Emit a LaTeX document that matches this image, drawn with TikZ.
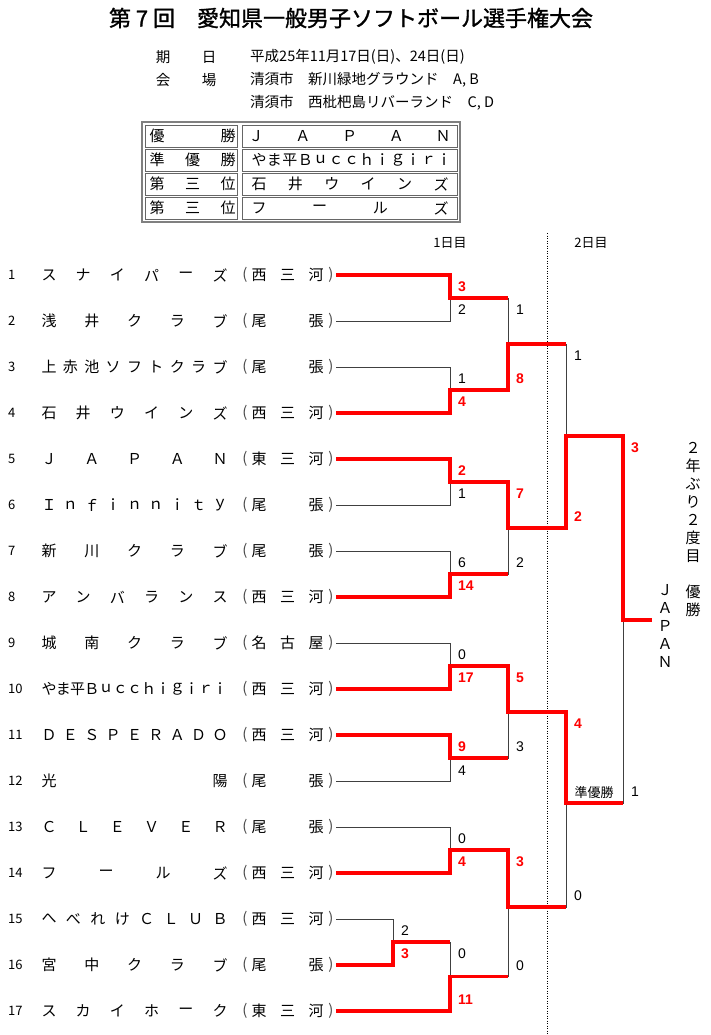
\documentclass[tikz,border=0pt]{standalone}
\usepackage{fontspec}
\newfontfamily\jp{Noto Sans CJK JP}
\newfontfamily\jpheavy[FakeBold=1.2]{Noto Sans CJK JP}
\newfontfamily\scorefont{Liberation Sans}
\usetikzlibrary{positioning,fit,calc}
\definecolor{winred}{rgb}{1,0,0}
\definecolor{framegray}{gray}{0.5}

% characters spread evenly between two centres
\newcommand{\spread}[5]{% #1 prefix, #2 first x, #3 last x, #4 y, #5 characters
  \foreach \c [count=\k] in {#5} {\xdef\nch{\k}}
  \pgfmathsetmacro\dx{(#3-#2)/(\nch-1)}
  \foreach \c [count=\k from 0] in {#5}
    \node[ch] (#1-\k) at ({#2+\k*\dx},#4) {\c};
}
% one team row
\newcommand{\team}[3]{% #1 number, #2 name, #3 region
  \pgfmathsetmacro\ty{275+46*(#1-1)}
  \node[teamno] (no#1) at (8,\ty) {#1};
  \spread{nm#1}{49}{220}{\ty}{#2}
  \node[paren] (lp#1) at (245,\ty) {(};
  \spread{rg#1}{259}{316}{\ty}{#3}
  \node[paren] (rp#1) at (331,\ty) {)};
  \coordinate (t#1) at (336,\ty);
}

\begin{document}
\begin{tikzpicture}[
  x = 1pt,
  y = -1pt,
  every node/.style = {inner sep = 0pt},
  ch/.style = {font = \jp\fontsize{15}{15}\selectfont},
  paren/.style = {font = \jp\fontsize{15}{15}\selectfont, text = black!70},
  teamno/.style = {anchor = west, font = \jp\fontsize{13}{13}\selectfont},
  titletext/.style = {font = \jpheavy\fontsize{22}{22}\selectfont},
  info/.style = {font = \jp\fontsize{14.5}{14.5}\selectfont},
  small/.style = {font = \jp\fontsize{13}{13}\selectfont},
  cell/.style = {
    draw = black!60,
    line width = 0.8pt,
    rectangle,
    minimum height = 22pt,
  },
  tableframe/.style = {
    draw = framegray,
    line width = 1.6pt,
    rectangle,
  },
  win/.style = {draw = winred, line width = 3.4pt},
  lose/.style = {draw = black!75, line width = 0.9pt},
  dayline/.style = {draw, line width = 0.8pt, dash pattern = on 1pt off 1.5pt},
  lscore/.style = {anchor = west, font = \scorefont\fontsize{14}{14}\selectfont},
  wscore/.style = {lscore, text = winred, font = \scorefont\bfseries\fontsize{14}{14}\selectfont},
]

  \useasboundingbox (0,0) rectangle (710,1035);

  % header
  \node[titletext] (title) at (351,18) {第 7 回　愛知県一般男子ソフトボール選手権大会};

  \node[info] (ki) at (163,57) {期};
  \node[info] (bi) at (209,57) {日};
  \node[info,anchor=west] (date) at (250,57) {平成25年11月17日(日)、24日(日)};
  \node[info] (kai) at (163,80) {会};
  \node[info] (jo) at (209,80) {場};
  \node[info,anchor=west] (place1) at (250,80) {清須市　新川緑地グラウンド　A, B};
  \node[info,anchor=west] (place2) at (250,103) {清須市　西枇杷島リバーランド　C, D};

  % result table
  \node[cell,minimum width=92pt] (c1l) at (191,136) {};
  \node[cell,minimum width=215pt] (c1r) at (349.5,136) {};
  \node[cell,minimum width=92pt] (c2l) at (191,160) {};
  \node[cell,minimum width=215pt] (c2r) at (349.5,160) {};
  \node[cell,minimum width=92pt] (c3l) at (191,184) {};
  \node[cell,minimum width=215pt] (c3r) at (349.5,184) {};
  \node[cell,minimum width=92pt] (c4l) at (191,208) {};
  \node[cell,minimum width=215pt] (c4r) at (349.5,208) {};
  \node[tableframe,fit=(c1l) (c4r),inner sep=2.5pt] (table) {};

  \spread{r1l}{157}{228}{136}{優,勝}
  \spread{r1r}{256}{443}{136}{Ｊ,Ａ,Ｐ,Ａ,Ｎ}
  \spread{r2l}{157}{228}{160}{準,優,勝}
  \spread{r2r}{259}{444}{160}{や,ま,平,Ｂ,ｕ,ｃ,ｃ,ｈ,ｉ,ｇ,ｉ,ｒ,ｉ}
  \spread{r3l}{157}{228}{184}{第,三,位}
  \spread{r3r}{259}{441}{184}{石,井,ウ,イ,ン,ズ}
  \spread{r4l}{157}{228}{208}{第,三,位}
  \spread{r4r}{259}{441}{208}{フ,ー,ル,ズ}

  % days
  \node[small] (day1) at (450,243) {1日目};
  \node[small] (day2) at (591,243) {2日目};
  \coordinate (dtop) at (547,233);
  \coordinate (dbot) at (547,1035);
  \draw[dayline] (dtop) -- (dbot);

  % teams
  \team{1}{ス,ナ,イ,パ,ー,ズ}{西,三,河}
  \team{2}{浅,井,ク,ラ,ブ}{尾,{},張}
  \team{3}{上,赤,池,ソ,フ,ト,ク,ラ,ブ}{尾,{},張}
  \team{4}{石,井,ウ,イ,ン,ズ}{西,三,河}
  \team{5}{Ｊ,Ａ,Ｐ,Ａ,Ｎ}{東,三,河}
  \team{6}{Ｉ,ｎ,ｆ,ｉ,ｎ,ｎ,ｉ,ｔ,ｙ}{尾,{},張}
  \team{7}{新,川,ク,ラ,ブ}{尾,{},張}
  \team{8}{ア,ン,バ,ラ,ン,ス}{西,三,河}
  \team{9}{城,南,ク,ラ,ブ}{名,古,屋}
  \team{10}{や,ま,平,Ｂ,ｕ,ｃ,ｃ,ｈ,ｉ,ｇ,ｉ,ｒ,ｉ}{西,三,河}
  \team{11}{Ｄ,Ｅ,Ｓ,Ｐ,Ｅ,Ｒ,Ａ,Ｄ,Ｏ}{西,三,河}
  \team{12}{光,陽}{尾,{},張}
  \team{13}{Ｃ,Ｌ,Ｅ,Ｖ,Ｅ,Ｒ}{尾,{},張}
  \team{14}{フ,ー,ル,ズ}{西,三,河}
  \team{15}{へ,べ,れ,け,Ｃ,Ｌ,Ｕ,Ｂ}{西,三,河}
  \team{16}{宮,中,ク,ラ,ブ}{尾,{},張}
  \team{17}{ス,カ,イ,ホ,ー,ク}{東,三,河}

  % junctions
  \coordinate (jA) at (450,298);
  \coordinate (jB) at (450,390);
  \coordinate (jC) at (450,482);
  \coordinate (jD) at (450,574);
  \coordinate (jE) at (450,666);
  \coordinate (jF) at (450,758);
  \coordinate (jG) at (450,850);
  \coordinate (jH) at (393,942);
  \coordinate (jI) at (450,976.5);
  \coordinate (jAB) at (508,344);
  \coordinate (jCD) at (508,528);
  \coordinate (jEF) at (508,712);
  \coordinate (jGI) at (508,907);
  \coordinate (jS1) at (566,436);
  \coordinate (jS2) at (566,803);
  \coordinate (jFin) at (623,620);
  \coordinate (champ) at (652,620);

  % bracket
  \foreach \a/\b in {t1/jA, t2/jA, t3/jB, t4/jB, t5/jC, t6/jC, t7/jD, t8/jD,
                     t9/jE, t10/jE, t11/jF, t12/jF, t13/jG, t14/jG, t15/jH, t16/jH,
                     jH/jI, t17/jI, jA/jAB, jB/jAB, jC/jCD, jD/jCD, jE/jEF, jF/jEF,
                     jG/jGI, jI/jGI, jAB/jS1, jCD/jS1, jEF/jS2, jGI/jS2, jS1/jFin, jS2/jFin}
    \draw[lose] (\a) -| (\b);

  % winners
  \draw[win] (t1) -| (jA) -- (jA -| jAB);
  \draw[win] (t4) -| (jB) -| (jAB) -- (jAB -| jS1);
  \draw[win] (t5) -| (jC) -| (jCD) -| (jS1) -| (jFin) -- (champ);
  \draw[win] (t8) -| (jD) -- (jD -| jCD);
  \draw[win] (t10) -| (jE) -| (jEF) -| (jS2) -- (jS2 -| jFin);
  \draw[win] (t11) -| (jF) -- (jF -| jEF);
  \draw[win] (t14) -| (jG) -| (jGI) -- (jGI -| jS2);
  \draw[win] (t16) -| (jH) -- (jH -| jI);
  \draw[win] (t17) -| (jI) -- (jI -| jGI);

  % scores
  \node[wscore] (sA1) at (458,287) {3};
  \node[lscore] (sA2) at (458,310) {2};
  \node[lscore] (sB1) at (458,379) {1};
  \node[wscore] (sB2) at (458,402) {4};
  \node[wscore] (sC1) at (458,471) {2};
  \node[lscore] (sC2) at (458,494) {1};
  \node[lscore] (sD1) at (458,563) {6};
  \node[wscore] (sD2) at (458,586) {14};
  \node[lscore] (sE1) at (458,655) {0};
  \node[wscore] (sE2) at (458,678) {17};
  \node[wscore] (sF1) at (458,747) {9};
  \node[lscore] (sF2) at (458,771) {4};
  \node[lscore] (sG1) at (458,839) {0};
  \node[wscore] (sG2) at (458,862) {4};
  \node[lscore] (sH1) at (401,931) {2};
  \node[wscore] (sH2) at (401,954) {3};
  \node[lscore] (sI1) at (458,954) {0};
  \node[wscore] (sI2) at (458,1000) {11};

  \node[lscore] (sAB1) at (516,310) {1};
  \node[wscore] (sAB2) at (516,379) {8};
  \node[wscore] (sCD1) at (516,494) {7};
  \node[lscore] (sCD2) at (516,563) {2};
  \node[wscore] (sEF1) at (516,678) {5};
  \node[lscore] (sEF2) at (516,747) {3};
  \node[wscore] (sGI1) at (516,862) {3};
  \node[lscore] (sGI2) at (516,966) {0};

  \node[lscore] (sS11) at (574,356) {1};
  \node[wscore] (sS12) at (574,517) {2};
  \node[wscore] (sS21) at (574,724) {4};
  \node[lscore] (sS22) at (574,896) {0};

  \node[wscore] (sFin1) at (631,448) {3};
  \node[lscore] (sFin2) at (631,792) {1};
  \node[small] (second) at (594,793) {準優勝};

  % champion, written top to bottom
  \foreach \c [count=\k from 0] in {Ｊ,Ａ,Ｐ,Ａ,Ｎ}
    \node[ch] (name-\k) at (665,{590+18*\k}) {\c};
  \foreach \c [count=\k from 0] in {２,年,ぶ,り,２,度,目,{},優,勝}
    \node[ch] (note-\k) at (693,{448+18*\k}) {\c};

\end{tikzpicture}
\end{document}
